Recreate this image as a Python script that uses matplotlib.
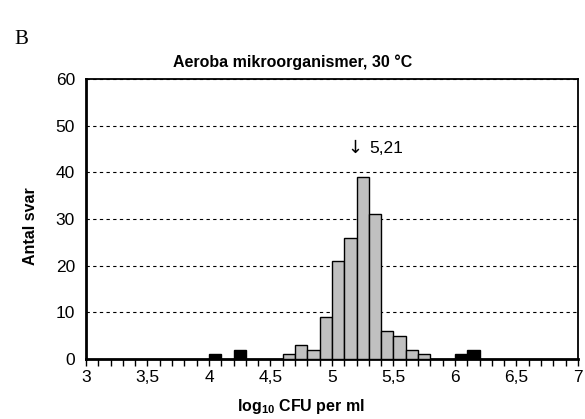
import matplotlib.pyplot as plt
import numpy as np
from matplotlib.ticker import MultipleLocator, FuncFormatter

plt.rcParams['font.family'] = ['Liberation Sans', 'DejaVu Sans']
plt.rcParams['mathtext.fontset'] = 'custom'
plt.rcParams['mathtext.bf'] = 'Liberation Sans:bold'
plt.rcParams['mathtext.rm'] = 'Liberation Sans'

# Antal svar per klass (klassbredd 0,1 log10-enheter)
bin_start = [4.6, 4.7, 4.8, 4.9, 5.0, 5.1, 5.2, 5.3, 5.4, 5.5, 5.6, 5.7]
antal = [1, 3, 2, 9, 21, 26, 39, 31, 6, 5, 2, 1]

# Avvikande resultat (svarta staplar)
avv_start = [4.0, 4.2, 6.0, 6.1]
avv_antal = [1, 2, 1, 2]

median_txt = '5,21'

fig = plt.figure(figsize=(5.85, 4.19), dpi=100)
ax = fig.add_axes([0.147, 0.143, 0.841, 0.668])

ax.bar(bin_start, antal, width=0.1, align='edge', color='#c0c0c0',
       edgecolor='black', linewidth=1, zorder=3)
ax.bar(avv_start, avv_antal, width=0.1, align='edge', color='black',
       edgecolor='black', linewidth=1, zorder=3)

ax.set_xlim(3, 7)
ax.set_ylim(0, 60)
ax.yaxis.set_major_locator(MultipleLocator(10))
ax.xaxis.set_major_locator(MultipleLocator(0.5))
ax.xaxis.set_minor_locator(MultipleLocator(0.1))
ax.xaxis.set_major_formatter(FuncFormatter(lambda v, p: ('%g' % v).replace('.', ',')))

ax.grid(axis='y', color='black', linestyle=(0, (3, 3)), linewidth=0.8, zorder=0)
for s in ax.spines.values():
    s.set_linewidth(1.3)
ax.spines['bottom'].set_linewidth(2)
ax.spines['left'].set_linewidth(2)

ax.tick_params(axis='x', which='both', direction='out', length=5, width=1, labelsize=12.5, pad=3)
ax.tick_params(axis='y', length=0, labelsize=12.5, pad=8)

# pil och medianvärde
ax.text(5.19, 45.2, '\u2193', fontsize=13, family='DejaVu Sans', va='center', ha='center')
ax.text(5.30, 45.2, median_txt, fontsize=12.5, va='center', ha='left')

fig.text(0.5, 0.852, 'Aeroba mikroorganismer, 30 \u00b0C', ha='center', va='center',
         fontsize=11.5, fontweight='bold')
fig.text(0.025, 0.905, 'B', fontsize=15, family='Liberation Serif', va='center')
fig.text(0.052, 0.46, 'Antal svar', rotation=90, ha='center', va='center',
         fontsize=11.5, fontweight='bold')
fig.text(0.515, 0.03, r'log$_{\mathbf{10}}$ CFU per ml', ha='center', va='center',
         fontsize=11.5, fontweight='bold')

fig.savefig('out.png', dpi=100)
